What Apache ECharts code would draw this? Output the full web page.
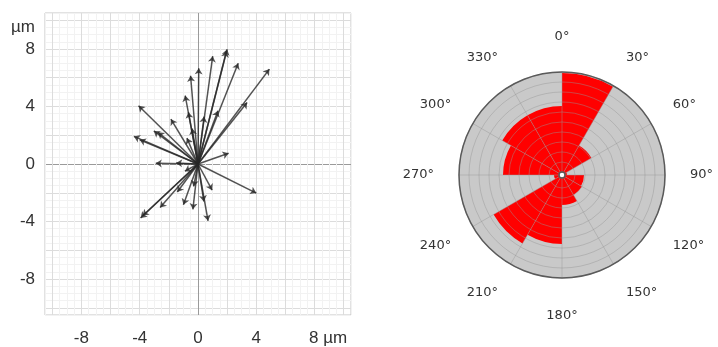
<!DOCTYPE html>
<html>
<head>
<meta charset="utf-8">
<script src="https://cdn.jsdelivr.net/npm/echarts@6/dist/echarts.min.js"></script>
<style>
html,body{margin:0;padding:0;background:#fff;}
#chart{width:718px;height:347px;}
</style>
</head>
<body>
<div id="chart"></div>
<script>
// ---- data ----
const unit = 'µm';
const xTicks = [-8, -4, 0, 4, 8];
const yTicks = [-8, -4, 0, 4, 8];
// displacement vectors (µm), each drawn from the origin
const vecX = [4.9, 3.37, 2.76, 2.0, 1.95, 1.01, 0.05, -0.51, -0.88, -0.66, 1.37, 0.42, -0.4,
              -4.08, -1.86, -3.03, -2.75, -4.4, -4.0, -0.76, 2.1, -2.9, -1.5,
              4.0, 0.97, 0.69, 0.4, -0.35, -1.0, -2.6, -3.94, -3.8, -1.42, -0.9, -0.3];
const vecY = [6.6, 4.28, 7.0, 7.98, 7.85, 7.5, 6.65, 6.14, 4.76, 3.6, 3.7, 3.3, 2.46,
              4.05, 3.12, 2.3, 2.2, 1.92, 1.68, 1.8, 0.75, 0.05, 0.07,
              -2.02, -1.82, -3.95, -2.6, -3.15, -2.83, -3.03, -3.75, -3.6, -1.95, -0.5, -1.56];
// rose diagram: 30° direction bins (compass, clockwise from north)
const roseBins = ['0-30', '30-60', '60-90', '90-120', '120-150', '150-180',
                  '180-210', '210-240', '240-270', '270-300', '300-330', '330-360'];
const roseValues = [9.9, 3.1, 0.2, 1.9, 2.0, 2.7, 6.6, 7.6, 0.5, 5.6, 6.6, 6.6];
const angleTicks = [0, 30, 60, 90, 120, 150, 180, 210, 240, 270, 300, 330];

// ---- styling helpers ----
const AX_MIN = -10.5, AX_MAX = 10.5, STEP = 0.5;
const gridColors = [];
for (let v = AX_MIN; v <= AX_MAX + 1e-9; v += STEP) {
  const r = Math.round(v * 2) / 2;
  gridColors.push(r === 0 ? '#9a9a9a' : (r % 2 === 0 ? '#dcdcdc' : '#f2f2f2'));
}
const labelFont = {fontFamily: 'Liberation Sans', fontSize: 17, color: '#333'};
const lastX = xTicks[xTicks.length - 1];
const polarLabel = {fontFamily: 'DejaVu Sans', fontSize: 13, color: '#333'};

const chart = echarts.init(document.getElementById('chart'), null, {renderer: 'canvas'});
chart.setOption({
  animation: false,
  backgroundColor: '#fff',
  grid: {left: 45, top: 13, width: 306, height: 302, show: true, borderColor: '#c4c4c4', borderWidth: 1, containLabel: false},
  xAxis: {
    type: 'value', min: AX_MIN, max: AX_MAX, interval: STEP,
    axisLine: {show: false}, axisTick: {show: false},
    splitLine: {show: true, lineStyle: {color: gridColors, width: 1}},
    axisLabel: Object.assign({
      margin: 15,
      formatter: function (v) {
        if (v === lastX) return '{p|}' + v + '{u| ' + unit + '}';
        return xTicks.indexOf(v) >= 0 ? String(v) : '';
      },
      rich: {
        p: {width: 27, fontFamily: 'Liberation Sans', fontSize: 17},
        u: {fontFamily: 'Liberation Sans', fontSize: 17, color: '#333'}
      }
    }, labelFont)
  },
  yAxis: {
    type: 'value', min: AX_MIN, max: AX_MAX, interval: STEP,
    axisLine: {show: false}, axisTick: {show: false},
    splitLine: {show: true, lineStyle: {color: gridColors, width: 1}},
    axisLabel: Object.assign({
      margin: 10,
      formatter: function (v) {
        if (v === 9.5) return unit;
        return yTicks.indexOf(v) >= 0 ? String(v) : '';
      }
    }, labelFont)
  },
  polar: [
    {center: [562, 175], radius: [3, 103]},
    {center: [562, 175], radius: [3, 103]}
  ],
  angleAxis: [
    {
      polarIndex: 0, type: 'category', data: roseBins, startAngle: 90, clockwise: true,
      boundaryGap: true,
      axisLine: {show: false}, axisTick: {show: false}, axisLabel: {show: false}, splitLine: {show: false}
    },
    {
      polarIndex: 1, type: 'value', min: 0, max: 360, interval: 30, startAngle: 90, clockwise: true,
      z: 5,
      axisLine: {show: true, lineStyle: {color: '#5a5a5a', width: 1.5}},
      axisTick: {show: false},
      axisLabel: Object.assign({
        margin: 25,
        formatter: function (v) {
          if (angleTicks.indexOf(v) < 0) return '';
          if (v === 0) return '{top|' + v + '°}';
          if (v === 180) return '{bot|' + v + '°}';
          return v + '°';
        },
        rich: {
          top: Object.assign({padding: [0, 0, 4, 0]}, polarLabel),
          bot: Object.assign({padding: [6, 0, 0, 0]}, polarLabel)
        }
      }, polarLabel),
      splitLine: {show: true, lineStyle: {color: 'rgba(150,150,150,0.45)', width: 1}}
    }
  ],
  radiusAxis: [
    {
      polarIndex: 0, type: 'value', min: 0, max: 10, interval: 1,
      axisLine: {show: false}, axisTick: {show: false}, axisLabel: {show: false},
      splitLine: {show: false},
      splitArea: {show: true, areaStyle: {color: ['#c9c9c9']}}
    },
    {
      polarIndex: 1, type: 'value', min: 0, max: 10, interval: 1, z: 5,
      axisLine: {show: false}, axisTick: {show: false}, axisLabel: {show: false},
      splitLine: {show: true, lineStyle: {color: 'rgba(150,150,150,0.45)', width: 1}}
    }
  ],
  series: [
    {
      type: 'lines', coordinateSystem: 'cartesian2d', xAxisIndex: 0, yAxisIndex: 0,
      symbol: ['none', 'arrow'], symbolSize: 6,
      lineStyle: {color: 'rgba(40,40,40,0.8)', width: 1.5, opacity: 1},
      data: vecX.map(function (x, i) { return {coords: [[0, 0], [x, vecY[i]]]}; }),
      z: 3
    },
    {
      type: 'bar', coordinateSystem: 'polar', polarIndex: 0,
      data: roseValues, barCategoryGap: '0%',
      itemStyle: {color: '#ff0000'}, z: 2
    }
  ]
});
</script>
</body>
</html>
